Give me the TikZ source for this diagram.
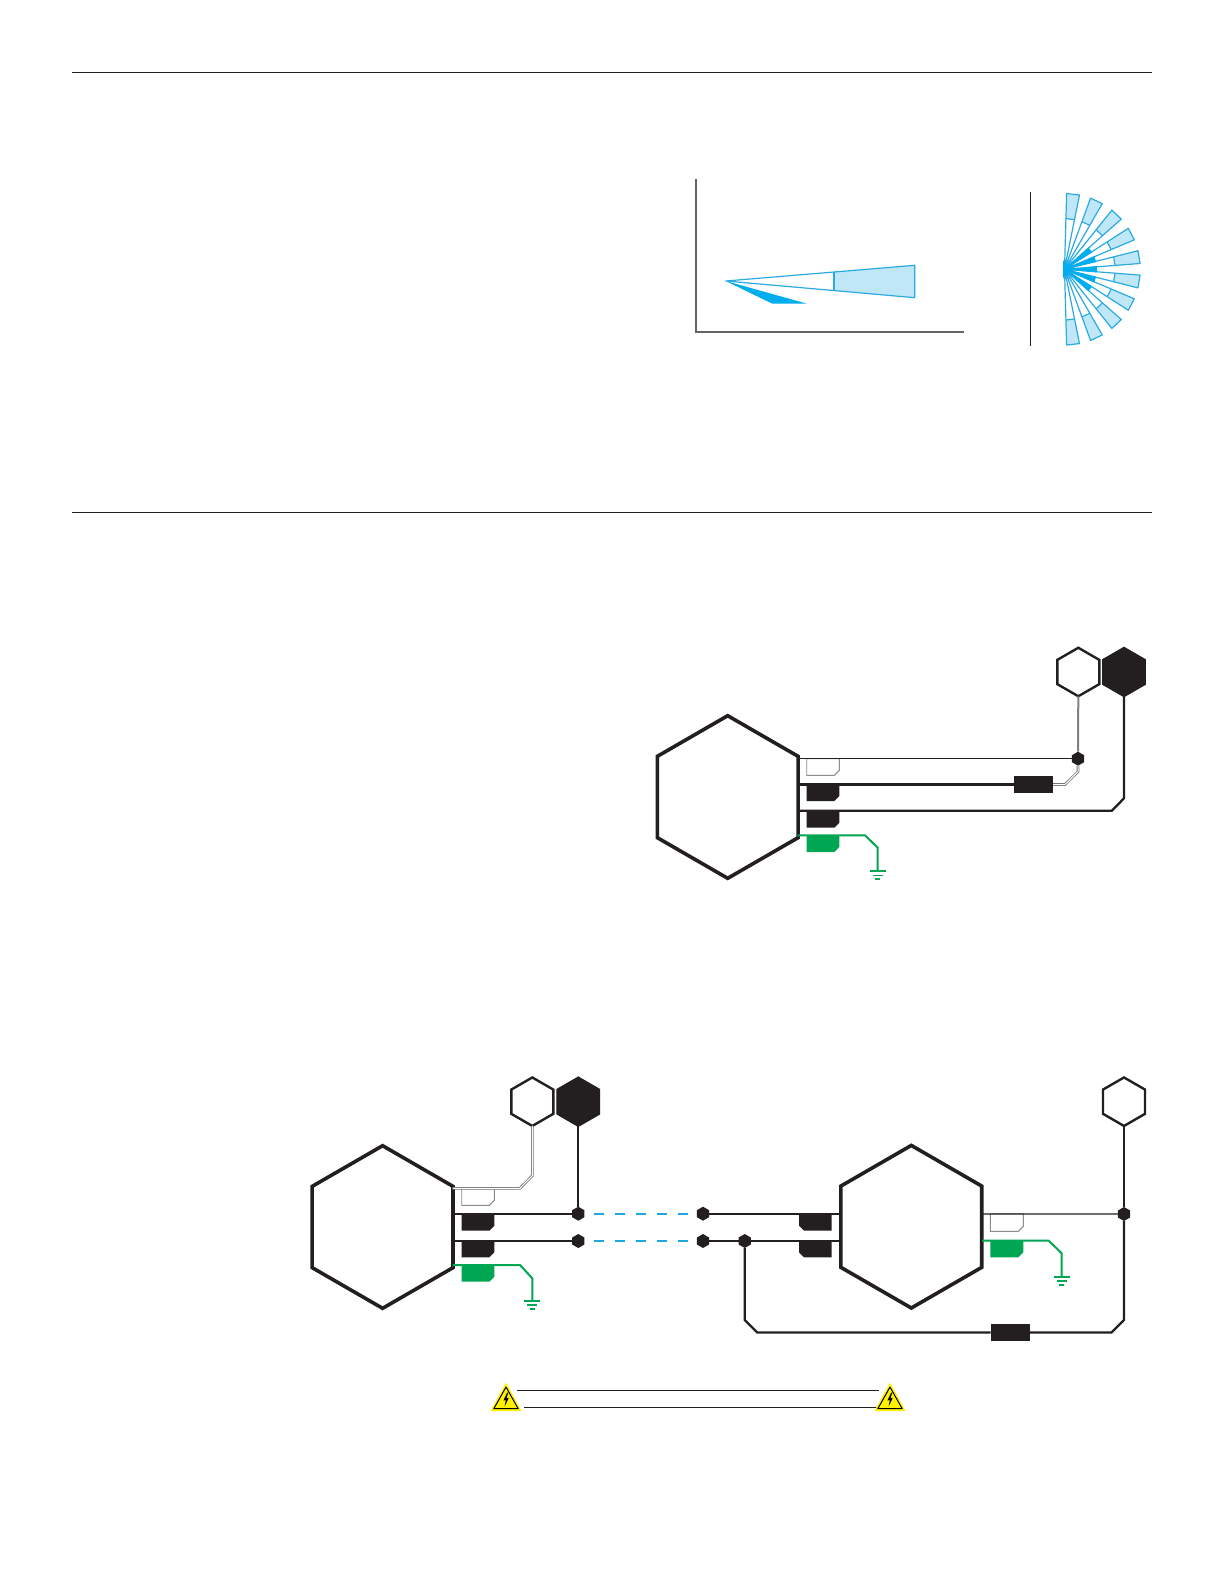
\documentclass[tikz,border=0pt]{standalone}
\usetikzlibrary{shapes.geometric}
\definecolor{ink}{HTML}{231F20}
\definecolor{beam}{HTML}{29ABE2}
\definecolor{beamfill}{HTML}{BFE7F8}
\definecolor{solidbeam}{HTML}{00AEEF}
\definecolor{earth}{HTML}{00A651}
\definecolor{dashblue}{HTML}{1CA7E0}
\definecolor{warn}{HTML}{FFF200}
\tikzset{
  hexbase/.style={regular polygon,regular polygon sides=6,shape border rotate=30,inner sep=0pt,outer sep=0pt},
  bighex/.style={hexbase,draw=ink,line width=3.6pt,fill=white,minimum size=162.6pt},
  smallhex/.style={hexbase,draw=ink,line width=2.4pt,fill=white,minimum size=48.5pt},
  blackhex/.style={hexbase,draw=ink,line width=1pt,fill=ink,minimum size=49.5pt},
  jct/.style={hexbase,fill=ink,minimum size=14pt},
  fuse/.style={rectangle,fill=ink,inner sep=0pt,outer sep=0pt,minimum width=39pt,minimum height=17pt},
  wire/.style={draw=ink,line width=2.3pt,line join=miter},
  thinwire/.style={draw=ink,line width=1.3pt},
  greywire/.style={draw=black!50,line width=2pt},
  dblwire/.style={draw=black!55,line width=.8pt,double=white,double distance=1pt},
  gwire/.style={draw=earth,line width=2pt},
  gbar/.style={draw=earth,line width=1.8pt},
  dashwire/.style={draw=dashblue,line width=2pt,dash pattern=on 10pt off 10.9pt},
  rulemark/.style={draw=ink,line width=1pt},
  axisline/.style={draw=black!60,line width=1.2pt},
  beamline/.style={draw=beam,line width=1.2pt,line join=round},
  tagblack/.style={fill=ink},
  taggreen/.style={fill=earth},
  tagwhite/.style={draw=black!45,line width=.9pt},
}
% tag cut at lower right: x0,y0,x1,y1
\newcommand{\tagR}[5]{\path[#1] (#2,#3) -- (#4,#3) -- (#4,#5-5) -- (#4-5,#5) -- (#2,#5) -- cycle;}
% tag cut at lower left
\newcommand{\tagL}[5]{\path[#1] (#2,#3) -- (#4,#3) -- (#4,#5) -- (#2+5,#5) -- (#2,#5-5) -- cycle;}
% ground symbol hanging under a named coordinate
\newcommand{\groundat}[1]{%
  \draw[gbar] ([xshift=-8pt]#1) -- ([xshift=8pt]#1);
  \draw[gbar] ([xshift=-5pt,yshift=-4.2pt]#1) -- ([xshift=5pt,yshift=-4.2pt]#1);
  \draw[gbar] ([xshift=-2.4pt,yshift=-8pt]#1) -- ([xshift=2.4pt,yshift=-8pt]#1);}
% warning triangle with apex at (x,1384)
\newcommand{\warnsign}[1]{%
  \fill[warn,rounded corners=1pt] (#1,1382.5) -- (#1+15.6,1411) -- (#1-15.6,1411) -- cycle;
  \draw[black,line width=1pt,line join=round] (#1,1387) -- (#1+12.2,1408.7) -- (#1-12.2,1408.7) -- cycle;
  \fill[black] (#1+1.2,1392.5) -- (#1-2.6,1400.5) -- (#1-.2,1400) -- (#1-1.4,1406.5) -- (#1+2.8,1397.8) -- (#1+.4,1398.3) -- (#1+2.4,1392.5) -- cycle;}
\begin{document}
\begin{tikzpicture}[x=1pt,y=-1pt]
\useasboundingbox (0,0) rectangle (1224,1584);
\fill[white] (0,0) rectangle (1224,1584);

% --- section rules
\coordinate (r1a) at (72,72.7); \coordinate (r1b) at (1152,72.7);
\coordinate (r2a) at (72,512);  \coordinate (r2b) at (1152,512);
\draw[rulemark] (r1a) -- (r1b);
\draw[rulemark] (r2a) -- (r2b);

% --- side view of detection pattern
\coordinate (ax0) at (696,179); \coordinate (ax1) at (696,332); \coordinate (ax2) at (964,332);
\draw[axisline] (ax0) -- (ax1) -- (ax2);
\fill[solidbeam] (725.7,281) -- (807,303.7) -- (772.3,303.7) -- cycle;
\path[fill=beamfill] (834,272) -- (914.7,265.3) -- (914.7,297.7) -- (834,290.3) -- cycle;
\draw[beamline] (725.7,281) -- (914.7,265.3) -- (914.7,297.7) -- cycle;
\draw[beamline] (834,272) -- (834,290.3);

% --- top view of detection pattern
\coordinate (tv0) at (1030.3,192); \coordinate (tv1) at (1030.3,345.7);
\draw[draw=ink,line width=1.1pt] (tv0) -- (tv1);
\def\fx{1064.5} \def\fy{269.3}
\foreach \a in {-83.5,-65,-46.4,-27.8,-9.3,9.3,27.8,46.4,65,83.5}{
  \path[fill=beamfill] ({\fx+50.5/cos(4.9)*cos(\a-4.9)},{\fy+50.5/cos(4.9)*sin(\a-4.9)})
     -- ({\fx+75.5/cos(4.9)*cos(\a-4.9)},{\fy+75.5/cos(4.9)*sin(\a-4.9)})
     -- ({\fx+75.5/cos(4.9)*cos(\a+4.9)},{\fy+75.5/cos(4.9)*sin(\a+4.9)})
     -- ({\fx+50.5/cos(4.9)*cos(\a+4.9)},{\fy+50.5/cos(4.9)*sin(\a+4.9)}) -- cycle;
  \draw[beamline] (\fx,\fy)
     -- ({\fx+75.5/cos(4.9)*cos(\a-4.9)},{\fy+75.5/cos(4.9)*sin(\a-4.9)})
     -- ({\fx+75.5/cos(4.9)*cos(\a+4.9)},{\fy+75.5/cos(4.9)*sin(\a+4.9)}) -- cycle;
  \draw[beamline] ({\fx+50.5/cos(4.9)*cos(\a-4.9)},{\fy+50.5/cos(4.9)*sin(\a-4.9)})
     -- ({\fx+50.5/cos(4.9)*cos(\a+4.9)},{\fy+50.5/cos(4.9)*sin(\a+4.9)});
}
\foreach \a in {-37,-18.5,0,18.5,37}{
  \fill[solidbeam] (\fx,\fy) -- ({\fx+32.5*cos(\a-5.5)},{\fy+32.5*sin(\a-5.5)}) -- ({\fx+32.5*cos(\a+5.5)},{\fy+32.5*sin(\a+5.5)}) -- cycle;
}
\fill[solidbeam] (\fx-1.5,\fy-9) -- (\fx+9,\fy) -- (\fx-1.5,\fy+9) -- cycle;

% --- diagram 1
\node[bighex]   (hexA)  at (727.7,797) {};
\node[smallhex] (wA)    at (1078.3,672) {};
\node[blackhex] (bA)    at (1124,672) {};
\node[jct]      (jA)    at (1078,758.7) {};
\node[fuse]     (fA)    at (1033.5,784.5) {};

\tagR{tagwhite}{806.7}{758.7}{839.3}{775.3}
\tagR{tagblack}{806.7}{784}{839.3}{801}
\tagR{tagblack}{806.7}{810.7}{839.3}{827.7}
\tagR{taggreen}{806.7}{835.3}{839.3}{852}

\coordinate (a1) at (797.7,758.7);
\coordinate (a2) at (797.7,784.5);
\coordinate (a3) at (797.7,810.8);
\coordinate (a4) at (797.7,835.3);
\coordinate (a2b1) at (1065,784.5);
\coordinate (a2b2) at (1078,771.7);
\coordinate (a3b1) at (1111.7,810.8);
\coordinate (a3b2) at (1124,798.3);
\coordinate (a4b1) at (865,835.3);
\coordinate (a4b2) at (877.7,847.7);
\coordinate (a4g)  at (877.7,871.3);

\draw[thinwire] (a1) -- (jA);
\draw[wire] (a2) -- (fA);
\draw[dblwire] (fA.east) -- (a2b1) -- (a2b2) -- (jA.south);
\draw[greywire] (wA.south) -- (jA.north);
\draw[wire] (a3) -- (a3b1) -- (a3b2) -- (bA.south);
\draw[gwire] (a4) -- (a4b1) -- (a4b2) -- (a4g);
\groundat{a4g}

% --- diagram 2, left unit
\node[bighex]   (hexB)  at (382.6,1227) {};
\node[smallhex] (wB)    at (532.3,1101.7) {};
\node[blackhex] (bB)    at (578.3,1101.7) {};
\node[jct]      (jB1)   at (578.3,1213.7) {};
\node[jct]      (jB2)   at (578.3,1241) {};

\tagR{tagwhite}{461.7}{1188.3}{494.3}{1205.3}
\tagR{tagblack}{461.7}{1213.7}{494.3}{1230.7}
\tagR{tagblack}{461.7}{1241}{494.3}{1257.3}
\tagR{taggreen}{461.7}{1265}{494.3}{1281.7}

\coordinate (b1) at (452.7,1188.3);
\coordinate (b2) at (452.7,1213.7);
\coordinate (b3) at (452.7,1241);
\coordinate (b4) at (452.7,1265);
\coordinate (b1b1) at (520,1188.3);
\coordinate (b1b2) at (532.3,1175.7);
\coordinate (b4b1) at (520,1265);
\coordinate (b4b2) at (532.3,1278.3);
\coordinate (b4g)  at (532.3,1300.7);

\draw[dblwire] (b1) -- (b1b1) -- (b1b2) -- (wB.south);
\draw[wire] (b2) -- (jB1);
\draw[wire] (b3) -- (jB2);
\draw[wire] (bB.south) -- (jB1.north);
\draw[gwire] (b4) -- (b4b1) -- (b4b2) -- (b4g);
\groundat{b4g}

% --- diagram 2, right unit
\node[bighex]   (hexC)  at (911.3,1226.7) {};
\node[smallhex] (wC)    at (1124,1101.7) {};
\node[jct]      (jC1)   at (703,1213.7) {};
\node[jct]      (jC2)   at (703,1241) {};
\node[jct]      (jC3)   at (744.7,1241) {};
\node[jct]      (jC4)   at (1124,1214) {};
\node[fuse]     (fC)    at (1010,1332.5) {};

\tagL{tagblack}{799}{1213.7}{831.7}{1230.7}
\tagL{tagblack}{799}{1241}{831.7}{1257.3}
\tagR{tagwhite}{990.3}{1213.7}{1023.3}{1231.3}
\tagR{taggreen}{990.3}{1240.7}{1023.3}{1257.3}

\coordinate (c1) at (840.7,1213.7);
\coordinate (c2) at (840.7,1241);
\coordinate (c3) at (982,1213.9);
\coordinate (c4) at (982,1240.7);
\coordinate (c4b1) at (1048.7,1240.7);
\coordinate (c4b2) at (1061.7,1253.3);
\coordinate (c4g)  at (1061.7,1276.7);
\coordinate (lpA) at (744.7,1320);
\coordinate (lpB) at (757.2,1332.5);
\coordinate (lpC) at (1111.5,1332.5);
\coordinate (lpD) at (1124,1320);

\draw[wire] (jC1) -- (c1);
\draw[wire] (jC2) -- (c2);
\draw[thinwire] (c3) -- (jC4);
\draw[gwire] (c4) -- (c4b1) -- (c4b2) -- (c4g);
\groundat{c4g}
\draw[wire] (wC.south) -- (jC4.north);
\draw[wire] (jC4.south) -- (lpD) -- (lpC) -- (fC.east);
\draw[wire] (jC3.south) -- (lpA) -- (lpB) -- (fC.west);

% --- dashed run between units
\draw[dashwire] ([xshift=15.7pt]jB1.center) -- ([xshift=-15.3pt]jC1.center);
\draw[dashwire] ([xshift=15.7pt]jB2.center) -- ([xshift=-15.3pt]jC2.center);

% --- warning bracket
\coordinate (w1a) at (516.7,1390.3); \coordinate (w1b) at (879.3,1390.3);
\coordinate (w2a) at (524.3,1407.3); \coordinate (w2b) at (876.7,1407.3);
\draw[draw=ink,line width=1.1pt] (w1a) -- (w1b);
\draw[draw=ink,line width=1.1pt] (w2a) -- (w2b);
\warnsign{506}
\warnsign{890}
\end{tikzpicture}
\end{document}
